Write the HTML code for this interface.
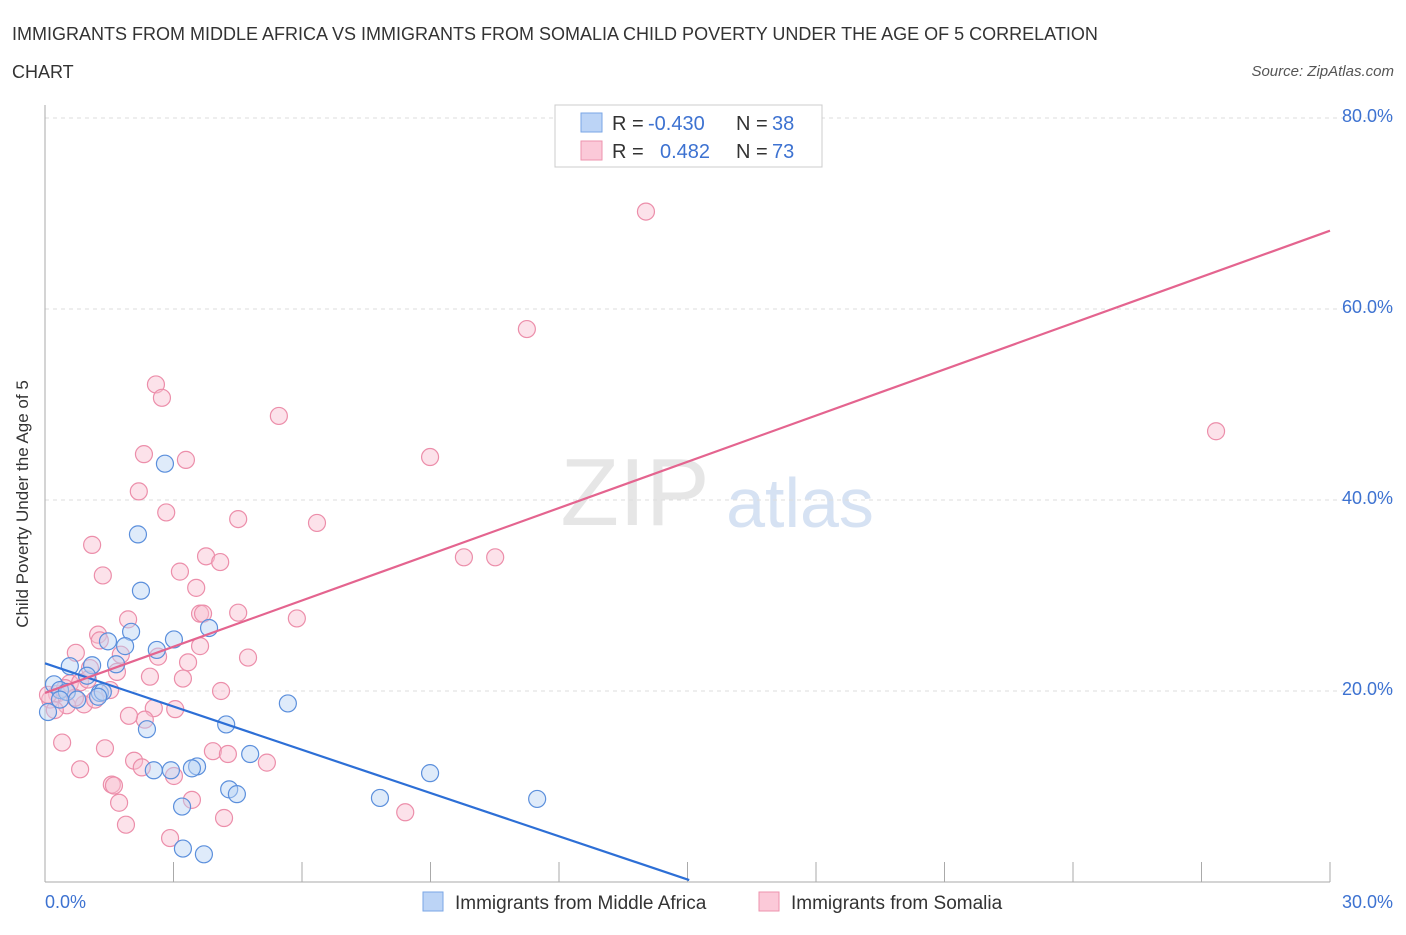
<!DOCTYPE html>
<html><head><meta charset="utf-8"><style>
body{margin:0;background:#fff;font-family:"Liberation Sans",sans-serif}
svg text{font-family:"Liberation Sans",sans-serif}
</style></head><body>
<svg id="c" width="1406" height="930" xmlns="http://www.w3.org/2000/svg">
<text x="12" y="40" font-size="18" fill="#333">IMMIGRANTS FROM MIDDLE AFRICA VS IMMIGRANTS FROM SOMALIA CHILD POVERTY UNDER THE AGE OF 5 CORRELATION</text>
<text x="12" y="78" font-size="18" fill="#333">CHART</text>
<text x="1394" y="76" font-size="15" fill="#555" font-style="italic" text-anchor="end">Source: ZipAtlas.com</text>
<g>
<text x="635" y="525" font-size="96" fill="#e6e6e6" font-family="Liberation Serif" text-anchor="middle">ZIP</text>
<text x="800" y="527" font-size="70" fill="#d6e2f3" text-anchor="middle">atlas</text>
</g>
<g id="grid"></g>
<g id="axes"></g>
<g id="pts"></g>
<g id="lines"></g>
<text x="16" y="492" font-size="17" fill="#333" transform="rotate(-90 28 492)" text-anchor="middle">Child Poverty Under the Age of 5</text>
<g>
<rect x="555" y="105" width="267" height="62" fill="#fff" stroke="#ccc"/>
<rect x="581" y="113" width="21" height="19" fill="#bcd4f6" stroke="#7aa6e6"/>
<rect x="581" y="141" width="21" height="19" fill="#fbc9d8" stroke="#ee93ae"/>
<text x="612" y="130" font-size="20" fill="#333">R = </text><text x="648" y="130" font-size="20" fill="#3d72d1">-0.430</text>
<text x="736" y="130" font-size="20" fill="#333">N = </text><text x="772" y="130" font-size="20" fill="#3d72d1">38</text>
<text x="612" y="158" font-size="20" fill="#333">R = </text><text x="660" y="158" font-size="20" fill="#3d72d1">0.482</text>
<text x="736" y="158" font-size="20" fill="#333">N = </text><text x="772" y="158" font-size="20" fill="#3d72d1">73</text>
</g>
<g>
<rect x="423" y="892" width="20" height="19" fill="#bcd4f6" stroke="#7aa6e6"/>
<text x="455" y="909" font-size="19" fill="#333">Immigrants from Middle Africa</text>
<rect x="759" y="892" width="20" height="19" fill="#fbc9d8" stroke="#ee93ae"/>
<text x="791" y="909" font-size="19" fill="#333">Immigrants from Somalia</text>
</g>
</svg>
<script>
const yTicks=[20,40,60,80];
const yTickLabels=["20.0%","40.0%","60.0%","80.0%"];
const xTickCount=10;
const blueX=[2.80,2.17,2.24,2.01,3.01,3.83,1.47,1.87,2.61,1.10,1.66,0.58,0.98,0.21,0.35,0.51,1.28,1.35,0.75,1.24,5.67,4.23,2.38,4.79,3.55,2.54,2.94,3.43,8.99,4.30,4.48,7.82,11.49,3.20,3.22,3.71,0.07,0.35];
const blueY=[43.8,36.4,30.5,26.2,25.4,26.6,25.2,24.7,24.3,22.7,22.8,22.6,21.6,20.7,20.1,19.9,19.8,19.9,19.1,19.4,18.7,16.5,16.0,13.4,12.1,11.7,11.7,11.9,11.4,9.7,9.2,8.8,8.7,7.9,3.5,2.9,17.8,19.1];
const pinkX=[14.03,11.25,2.59,2.73,5.46,27.34,2.31,3.29,8.99,2.19,2.83,4.51,6.35,1.10,3.76,4.09,9.78,10.51,1.35,3.15,3.53,1.94,3.62,3.69,4.51,5.88,1.24,1.28,3.62,0.72,1.77,2.64,4.74,3.34,1.05,1.68,2.45,3.22,0.58,0.82,4.11,0.28,0.91,0.51,2.54,2.33,1.96,3.04,0.40,1.40,3.92,4.27,2.08,2.26,5.18,0.82,1.56,1.61,3.01,3.43,1.73,8.41,1.89,4.18,2.92,0.12,0.23,0.07,0.47,0.70,1.00,1.52,1.17];
const pinkY=[70.2,57.9,52.1,50.7,48.8,47.2,44.8,44.2,44.5,40.9,38.7,38.0,37.6,35.3,34.1,33.5,34.0,34.0,32.1,32.5,30.8,27.5,28.1,28.1,28.2,27.6,25.9,25.3,24.7,24.0,23.8,23.6,23.5,23.0,22.4,22.0,21.5,21.3,20.8,20.9,20.0,19.7,18.6,18.5,18.2,17.0,17.4,18.1,14.6,14.0,13.7,13.4,12.7,12.0,12.5,11.8,10.2,10.1,11.1,8.6,8.3,7.3,6.0,6.7,4.6,19.1,18.0,19.6,20.3,19.3,21.2,20.1,19.1];
const blueLineX=[0,15.04];const blueLineY=[22.9,0.2];
const pinkLineX=[0,30];const pinkLineY=[19.8,68.2];
const X0=45,X1=1330,Y0=882,PXY=9.55;
const sx=v=>X0+(X1-X0)*v/30, sy=v=>Y0-v*PXY;
const NS="http://www.w3.org/2000/svg";
function mk(t,a,p){const e=document.createElementNS(NS,t);for(const k in a)e.setAttribute(k,a[k]);p.appendChild(e);return e;}
const grid=document.getElementById('grid'),axes=document.getElementById('axes'),pts=document.getElementById('pts'),lines=document.getElementById('lines');
yTicks.forEach((v,i)=>{
 const g=mk('line',{x1:X0,x2:1392,y1:sy(v),y2:sy(v),stroke:'#ddd','stroke-dasharray':'4,4'},grid);
 
 
 const t=mk('text',{x:1393,y:sy(v)-12+6+10,'font-size':18,fill:'#3d72d1','text-anchor':'end'},axes);
 t.textContent=yTickLabels[i];
 
 
});
const ya=mk('line',{x1:X0,x2:X0,y1:105,y2:Y0,stroke:'#aaa'},axes);


const xa=mk('line',{x1:X0,x2:X1,y1:Y0,y2:Y0,stroke:'#aaa'},axes);


for(let i=1;i<=xTickCount;i++){
 const x=sx(i*30/xTickCount);
 const tk=mk('line',{x1:x,x2:x,y1:862,y2:Y0,stroke:'#aaa'},axes);
 
 
}
const xl=mk('text',{x:45,y:908,'font-size':18,fill:'#3d72d1'},axes);xl.textContent='0.0%';


const xr=mk('text',{x:1393,y:908,'font-size':18,fill:'#3d72d1','text-anchor':'end'},axes);xr.textContent='30.0%';


function dots(X,Y,fill,stroke,name){X.forEach((v,i)=>{
 const c=mk('circle',{cx:sx(v),cy:sy(Y[i]),r:8.5,fill:fill,'fill-opacity':0.45,stroke:stroke,'stroke-width':1.2},pts);
 
 
});}
dots(pinkX,pinkY,'#f9bfd0','#ec8eaa','point-somalia');
dots(blueX,blueY,'#b9d2f5','#5b8fdc','point-middle-africa');
const bl=mk('line',{x1:sx(blueLineX[0]),y1:sy(blueLineY[0]),x2:sx(blueLineX[1]),y2:sy(blueLineY[1]),stroke:'#2d6fd6','stroke-width':2.2},lines);


const pl=mk('line',{x1:sx(pinkLineX[0]),y1:sy(pinkLineY[0]),x2:sx(pinkLineX[1]),y2:sy(pinkLineY[1]),stroke:'#e4648f','stroke-width':2.2},lines);


</script>
</body></html>
